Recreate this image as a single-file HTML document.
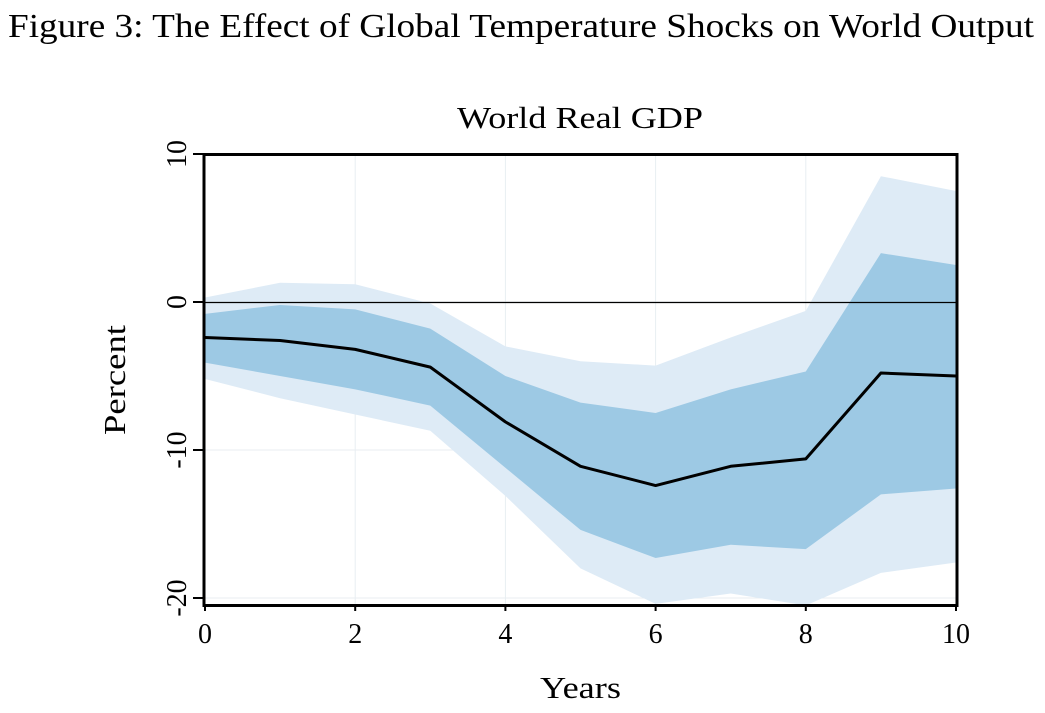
<!DOCTYPE html>
<html><head><meta charset="utf-8"><style>
body{margin:0;background:#fff;width:1045px;height:708px;overflow:hidden}
svg text{font-family:"Liberation Serif",serif;fill:#000}
</style></head><body>
<svg id="c" width="1045" height="708">
<text x="8" y="37" font-size="34" textLength="1026" lengthAdjust="spacingAndGlyphs">Figure 3: The Effect of Global Temperature Shocks on World Output</text>
<text x="457" y="128" font-size="31" textLength="246" lengthAdjust="spacingAndGlyphs">World Real GDP</text>
<text x="540" y="698" font-size="31" textLength="81" lengthAdjust="spacingAndGlyphs">Years</text>
<text transform="translate(125,435) rotate(-90)" font-size="31" textLength="110" lengthAdjust="spacingAndGlyphs">Percent</text>
<defs><clipPath id="pc"><rect x="204" y="154" width="753" height="451"/></clipPath></defs>
<g id="grid"></g><g id="bands" clip-path="url(#pc)"></g><g id="marks"></g><g id="axes"></g>
</svg>
<script>
const years=[0,1,2,3,4,5,6,7,8,9,10];
const meanVals=[-2.4,-2.6,-3.2,-4.4,-8.1,-11.1,-12.4,-11.1,-10.6,-4.8,-5.0];
const innerUpper=[-0.8,-0.2,-0.5,-1.8,-5.0,-6.8,-7.5,-5.9,-4.7,3.3,2.5];
const innerLower=[-4.1,-5.0,-5.9,-7.0,-11.2,-15.4,-17.3,-16.4,-16.7,-13.0,-12.6];
const outerUpper=[0.3,1.3,1.2,-0.1,-3.0,-4.0,-4.3,-2.4,-0.6,8.5,7.5];
const outerLower=[-5.2,-6.5,-7.6,-8.7,-13.1,-18.0,-20.4,-19.7,-20.5,-18.3,-17.6];
const xTicks=[0,2,4,6,8,10];
const yTicks=[10,0,-10,-20];
const X=v=>205+v*75.1, Y=v=>302-v*14.8;
const NS="http://www.w3.org/2000/svg";
function mk(t,p,a){const e=document.createElementNS(NS,t);for(const k in a)e.setAttribute(k,a[k]);p.appendChild(e);return e;}
const grid=document.getElementById('grid'),bands=document.getElementById('bands'),marks=document.getElementById('marks'),axes=document.getElementById('axes');
xTicks.forEach(t=>{const l=mk('line',grid,{x1:X(t),x2:X(t),y1:154,y2:605,stroke:'#e8eef2','stroke-width':1});

});
yTicks.forEach(t=>{const l=mk('line',grid,{x1:204,x2:957,y1:Y(t),y2:Y(t),stroke:'#e8eef2','stroke-width':1});

});
function band(up,lo,fill,name){const pts=years.map((x,i)=>X(x)+','+Y(up[i])).concat(years.slice().reverse().map((x,j)=>{const i=years.length-1-j;return X(x)+','+Y(lo[i]);}));
const p=mk('polygon',bands,{points:pts.join(' '),fill:fill});

}
band(outerUpper,outerLower,'#deebf6','outer-confidence-band');
band(innerUpper,innerLower,'#9dc9e4','inner-confidence-band');
const zl=mk('line',marks,{x1:204,x2:957,y1:Y(0)+0.5,y2:Y(0)+0.5,stroke:'#000','stroke-width':1.2});


const ml=mk('polyline',marks,{points:years.map((x,i)=>X(x)+','+Y(meanVals[i])).join(' '),fill:'none',stroke:'#000','stroke-width':3,'stroke-linejoin':'round'});


const fr=mk('rect',axes,{x:204,y:154.5,width:753,height:451,fill:'none',stroke:'#000','stroke-width':3});


xTicks.forEach(t=>{const l=mk('line',axes,{x1:X(t),x2:X(t),y1:605,y2:611,stroke:'#000','stroke-width':2});


const tx=mk('text',axes,{x:X(t),y:643,'font-size':28,'text-anchor':'middle'});tx.textContent=t;

});
yTicks.forEach(t=>{const l=mk('line',axes,{x1:193,x2:204,y1:Y(t),y2:Y(t),stroke:'#000','stroke-width':2});


const tx=mk('text',axes,{transform:`translate(186,${Y(t)}) rotate(-90)`,'font-size':28,'text-anchor':'middle'});tx.textContent=t;

});
</script>
</body></html>
